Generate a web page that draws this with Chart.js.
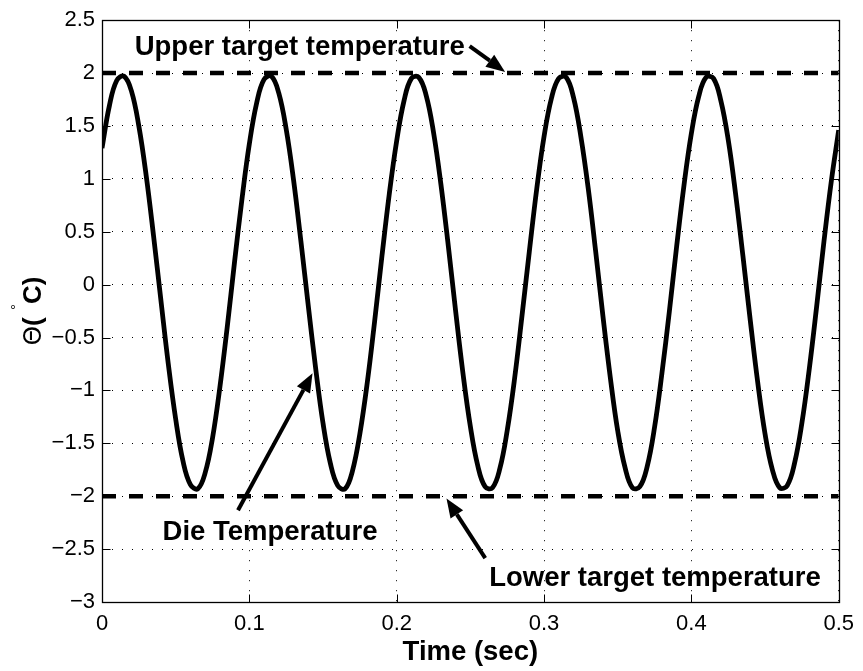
<!DOCTYPE html>
<html>
<head>
<meta charset="utf-8">
<script src="https://cdn.jsdelivr.net/npm/chart.js@4"></script>
<style>
html,body{margin:0;padding:0;background:#fff}
#wrap{width:863px;height:671px}
</style>
</head>
<body>
<div id="wrap"><canvas id="tempChart" width="863" height="671"></canvas></div>
<script>
// ----------------------------
// DATA
// ----------------------------

const times = [
0.000,0.005,0.010,0.015,0.020,0.025,0.030,0.035,0.040,0.045,
0.050,0.055,0.060,0.065,0.070,0.075,0.080,0.085,0.090,0.095,
0.100,0.105,0.110,0.115,0.120,0.125,0.130,0.135,0.140,0.145,
0.150,0.155,0.160,0.165,0.170,0.175,0.180,0.185,0.190,0.195,
0.200,0.205,0.210,0.215,0.220,0.225,0.230,0.235,0.240,0.245,
0.250,0.255,0.260,0.265,0.270,0.275,0.280,0.285,0.290,0.295,
0.300,0.305,0.310,0.315,0.320,0.325,0.330,0.335,0.340,0.345,
0.350,0.355,0.360,0.365,0.370,0.375,0.380,0.385,0.390,0.395,
0.400,0.405,0.410,0.415,0.420,0.425,0.430,0.435,0.440,0.445,
0.450,0.455,0.460,0.465,0.470,0.475,0.480,0.485,0.490,0.495,
0.500
]

const dieTemp = [
1.29,1.69,1.93,1.97,1.83,1.50,1.03,0.46,-0.15,-0.75,
-1.27,-1.67,-1.89,-1.93,-1.78,-1.45,-0.97,-0.40,0.22,0.81,
1.33,1.72,1.94,1.97,1.81,1.47,0.99,0.41,-0.20,-0.79,
-1.31,-1.69,-1.90,-1.93,-1.76,-1.41,-0.93,-0.35,0.27,0.86,
1.36,1.74,1.95,1.96,1.79,1.44,0.95,0.37,-0.25,-0.84,
-1.34,-1.71,-1.91,-1.92,-1.74,-1.38,-0.89,-0.30,0.31,0.90,
1.40,1.76,1.95,1.96,1.77,1.40,0.91,0.32,-0.30,-0.88,
-1.38,-1.73,-1.92,-1.91,-1.72,-1.35,-0.84,-0.26,0.36,0.94,
1.43,1.78,1.96,1.95,1.74,1.37,0.86,0.27,-0.34,-0.92,
-1.41,-1.75,-1.92,-1.90,-1.69,-1.31,-0.80,-0.21,0.41,0.98,
1.46
]

const targetTimes = [0, 0.5]
const upperTarget = [2, 2]
const lowerTarget = [-2, -2]

const xTickValues = [0, 0.1, 0.2, 0.3, 0.4, 0.5]
const xTickLabels = ["0", "0.1", "0.2", "0.3", "0.4", "0.5"]
const yTickValues = [-3, -2.5, -2, -1.5, -1, -0.5, 0, 0.5, 1, 1.5, 2, 2.5]
const yTickLabels = ["\u22123", "\u22122.5", "\u22122", "\u22121.5", "\u22121", "\u22120.5", "0", "0.5", "1", "1.5", "2", "2.5"]

// annotation texts and arrows (data coords)
const notes = [
  {text: "Upper target temperature", x: 0.0222, y: 2.17, from: [0.2495, 2.256], to: [0.2736, 2.011]},
  {text: "Die Temperature", x: 0.0411, y: -2.415, from: [0.0923, -2.133], to: [0.1429, -0.837]},
  {text: "Lower target temperature", x: 0.2628, y: -2.848, from: [0.2601, -2.585], to: [0.2338, -2.021]}
]

const FONT = '"Liberation Sans", Arial, Helvetica, sans-serif'

function toPoints(xs, ys){
  return xs.map((x,i)=>({x: x, y: ys[i]}))
}

// ----------------------------
// FRAME, TICKS, LABELS PLUGIN
// ----------------------------

const matlabFrame = {
  id: "matlabFrame",
  afterDatasetsDraw(chart){
    const ctx = chart.ctx
    const xs = chart.scales.x
    const ys = chart.scales.y

    // annotations
    ctx.save()
    ctx.fillStyle = "#000"
    ctx.strokeStyle = "#000"
    ctx.font = "bold 27.5px " + FONT
    ctx.textBaseline = "alphabetic"
    ctx.textAlign = "left"
    notes.forEach(n=>{
      ctx.fillText(n.text, xs.getPixelForValue(n.x), ys.getPixelForValue(n.y))
      const x1 = xs.getPixelForValue(n.from[0]), y1 = ys.getPixelForValue(n.from[1])
      const x2 = xs.getPixelForValue(n.to[0]), y2 = ys.getPixelForValue(n.to[1])
      const ang = Math.atan2(y2-y1, x2-x1)
      const head = 19, half = 7.5
      const bx = x2 - head*Math.cos(ang), by = y2 - head*Math.sin(ang)
      ctx.lineWidth = 4
      ctx.beginPath()
      ctx.moveTo(x1, y1)
      ctx.lineTo(bx, by)
      ctx.stroke()
      ctx.beginPath()
      ctx.moveTo(x2, y2)
      ctx.lineTo(bx + half*Math.sin(ang), by - half*Math.cos(ang))
      ctx.lineTo(bx - half*Math.sin(ang), by + half*Math.cos(ang))
      ctx.closePath()
      ctx.fill()
    })
    ctx.restore()
  },
  afterDraw(chart){
    const ctx = chart.ctx
    const xs = chart.scales.x
    const ys = chart.scales.y
    const a = chart.chartArea
    const L = Math.round(a.left)+0.5, R = Math.round(a.right)+0.5
    const T = Math.round(a.top)+0.5, B = Math.round(a.bottom)+0.5
    const tick = 8

    ctx.save()
    ctx.strokeStyle = "#000"
    ctx.lineWidth = 1.3
    ctx.strokeRect(L, T, R-L, B-T)
    ctx.lineWidth = 1
    ctx.beginPath()
    xTickValues.forEach(v=>{
      const px = Math.round(xs.getPixelForValue(v))+0.5
      ctx.moveTo(px, B); ctx.lineTo(px, B-tick)
      ctx.moveTo(px, T); ctx.lineTo(px, T+tick)
    })
    yTickValues.forEach(v=>{
      const py = Math.round(ys.getPixelForValue(v))+0.5
      ctx.moveTo(L, py); ctx.lineTo(L+tick, py)
      ctx.moveTo(R, py); ctx.lineTo(R-tick, py)
    })
    ctx.stroke()

    // y axis title: Θ( °C)
    const parts = [
      {t: "\u0398", font: "25px \"DejaVu Sans\", sans-serif", dy: 0},
      {t: "( ", font: "bold 26px " + FONT, dy: 0},
      {t: "\u00b0", font: "15px " + FONT, dy: -20},
      {t: "C)", font: "bold 26px " + FONT, dy: 0}
    ]
    let total = 0
    parts.forEach(p=>{ ctx.font = p.font; p.w = ctx.measureText(p.t).width; total += p.w })
    const cy = (a.top + a.bottom)/2
    ctx.translate(41, cy + total/2)
    ctx.rotate(-Math.PI/2)
    ctx.fillStyle = "#000"
    ctx.textBaseline = "alphabetic"
    ctx.textAlign = "left"
    let px = 0
    parts.forEach(p=>{
      ctx.font = p.font
      ctx.fillText(p.t, px, p.dy)
      px += p.w
    })
    ctx.restore()
  }
}

// ------------------------------------
// CHART
// ------------------------------------

const ctx = document.getElementById("tempChart").getContext("2d")

new Chart(ctx,{
  type: "line",
  data: {
    datasets: [
      {
        label: "Upper target temperature",
        data: toPoints(targetTimes, upperTarget),
        borderColor: "#000",
        borderWidth: 4.5,
        borderDash: [14, 13],
        borderCapStyle: "butt",
        pointRadius: 0,
        fill: false
      },
      {
        label: "Lower target temperature",
        data: toPoints(targetTimes, lowerTarget),
        borderColor: "#000",
        borderWidth: 4.5,
        borderDash: [14, 13],
        borderCapStyle: "butt",
        pointRadius: 0,
        fill: false
      },
      {
        label: "Die Temperature",
        data: toPoints(times, dieTemp),
        borderColor: "#000",
        borderWidth: 4.8,
        tension: 0.4,
        pointRadius: 0,
        fill: false
      }
    ]
  },
  plugins: [matlabFrame],
  options: {
    responsive: false,
    animation: false,
    events: [],
    layout: {padding: {left: 0, right: 19, top: 17, bottom: 0}},
    plugins: {legend: {display: false}, tooltip: {enabled: false}},
    scales: {
      x: {
        type: "linear",
        min: 0,
        max: 0.5,
        afterFit: s=>{ s.height = 69 },
        afterBuildTicks: s=>{ s.ticks = xTickValues.map(v=>({value: v})) },
        ticks: {
          color: "#000",
          padding: 9,
          maxRotation: 0,
          font: {family: FONT, size: 22},
          callback: (v, i)=>xTickLabels[i]
        },
        grid: {color: "#000", lineWidth: 1, drawTicks: false},
        border: {display: false, dash: [1, 9]},
        title: {
          display: true,
          text: "Time (sec)",
          color: "#000",
          font: {family: FONT, size: 27.5, weight: "bold"},
          padding: {top: 0, bottom: 2}
        }
      },
      y: {
        type: "linear",
        min: -3,
        max: 2.5,
        afterFit: s=>{ s.width = 102 },
        afterBuildTicks: s=>{ s.ticks = yTickValues.map(v=>({value: v})) },
        ticks: {
          color: "#000",
          padding: 7,
          font: {family: FONT, size: 22},
          callback: (v, i)=>yTickLabels[i]
        },
        grid: {color: "#000", lineWidth: 1, drawTicks: false},
        border: {display: false, dash: [1, 9]}
      }
    }
  }
})
</script>
</body>
</html>
